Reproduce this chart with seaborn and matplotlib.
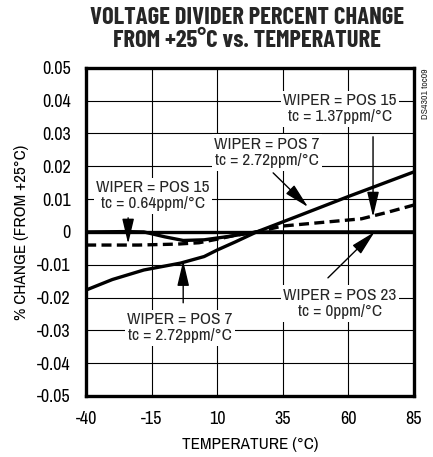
import matplotlib
matplotlib.use("Agg")
import matplotlib.pyplot as plt
import pandas as pd
import seaborn as sns

# data
temp_pos7 = [-40, -30, -18, -4, 5, 10, 17, 25, 40, 60, 85]
chg_pos7 = [-0.0177, -0.0145, -0.0116, -0.0095, -0.0075, -0.0055, -0.003, 0.0, 0.0046, 0.0108, 0.0183]

temp_pos15_dash = [-40, -20, -5, 3, 10, 17, 25, 35, 50, 65, 75, 85]
chg_pos15_dash = [-0.0040, -0.0040, -0.0037, -0.0033, -0.0022, -0.0010, 0.0, 0.0018, 0.0029, 0.0040, 0.0060, 0.0082]

temp_pos15 = [-40, -25, -18, -10, -3, 5, 15, 25, 85]
chg_pos15 = [0.0, 0.0001, 0.0, -0.0015, -0.0026, -0.0024, -0.0013, 0.0, 0.0]

temp_pos23 = [-40, 85]
chg_pos23 = [0.0, 0.0]

x_ticks = [-40, -15, 10, 35, 60, 85]
y_ticks = [-0.05, -0.04, -0.03, -0.02, -0.01, 0, 0.01, 0.02, 0.03, 0.04, 0.05]
y_labels = ["-0.05", "-0.04", "-0.03", "-0.02", "-0.01", "0", "0.01", "0.02", "0.03", "0.04", "0.05"]

sns.set_style("white")
plt.rcParams['font.family'] = ['Archivo Narrow', 'DejaVu Sans']

fig = plt.figure(figsize=(4.33, 4.57), dpi=100)
ax = fig.add_axes([0.199, 0.1335, 0.757, 0.718])

lw = 2.4
sns.lineplot(x=temp_pos23, y=chg_pos23, color='black', lw=lw, ax=ax)
sns.lineplot(x=temp_pos15, y=chg_pos15, color='black', lw=lw, ax=ax)
sns.lineplot(x=temp_pos7, y=chg_pos7, color='black', lw=lw, ax=ax)
sns.lineplot(x=temp_pos15_dash, y=chg_pos15_dash, color='black', lw=lw, ax=ax)
ax.lines[-1].set_dashes((3, 1.6))

ax.set_xlim(-40, 85)
ax.set_ylim(-0.05, 0.05)
ax.set_xticks(x_ticks)
ax.set_xticklabels([str(t) for t in x_ticks])
ax.set_yticks(y_ticks)
ax.set_yticklabels(y_labels)
ax.grid(True, color='black', lw=0.8)
ax.set_axisbelow(True)
for s in ax.spines.values():
    s.set_linewidth(2.4)
    s.set_color('black')
ax.tick_params(labelsize=13, length=0, pad=11, colors='black')

ax.set_xlabel("TEMPERATURE (°C)", fontsize=12.3, labelpad=7, color='black')
ax.set_ylabel("% CHANGE (FROM +25°C)", fontsize=12.3, labelpad=6, color='black')

fig.text(0.571, 0.984, "VOLTAGE DIVIDER PERCENT CHANGE\nFROM +25°C vs. TEMPERATURE",
         ha='center', va='top', fontsize=17.7, fontweight='bold', linespacing=1.02,
         family=['Barlow Condensed', 'DejaVu Sans'])

box = dict(boxstyle='square,pad=0.15', fc='white', ec='none')
arrow = dict(arrowstyle='-|>,head_width=0.26,head_length=1.1', color='black', lw=1.0,
             mutation_scale=14, shrinkA=0, shrinkB=0)

def label(txt, xy, xytext, tail):
    ax.text(xytext[0], xytext[1], txt, ha='center', va='center', fontsize=12.5,
            bbox=box, linespacing=1.1, zorder=5)
    ax.annotate("", xy=xy, xytext=tail, arrowprops=arrow, zorder=6)

label("WIPER = POS 15\ntc = 1.37ppm/°C", (69.4, 0.0046), (56.8, 0.0375), (69.4, 0.029))
label("WIPER = POS 7\ntc = 2.72ppm/°C", (44.6, 0.0076), (29, 0.0242), (31.3, 0.018))
label("WIPER = POS 15\ntc = 0.64ppm/°C", (-24, -0.0036), (-14.5, 0.011), (-24, 0.0043))
label("WIPER = POS 7\ntc = 2.72ppm/°C", (-3, -0.0088), (-4.2, -0.0292), (-3, -0.0216))
label("WIPER = POS 23\ntc = 0ppm/°C", (70, 0.0), (56.8, -0.0218), (52.2, -0.014))

fig.text(0.982, 0.85, "DS4301 toc09", rotation=90, ha='center', va='top', fontsize=7)

fig.savefig("out.png", dpi=100)
